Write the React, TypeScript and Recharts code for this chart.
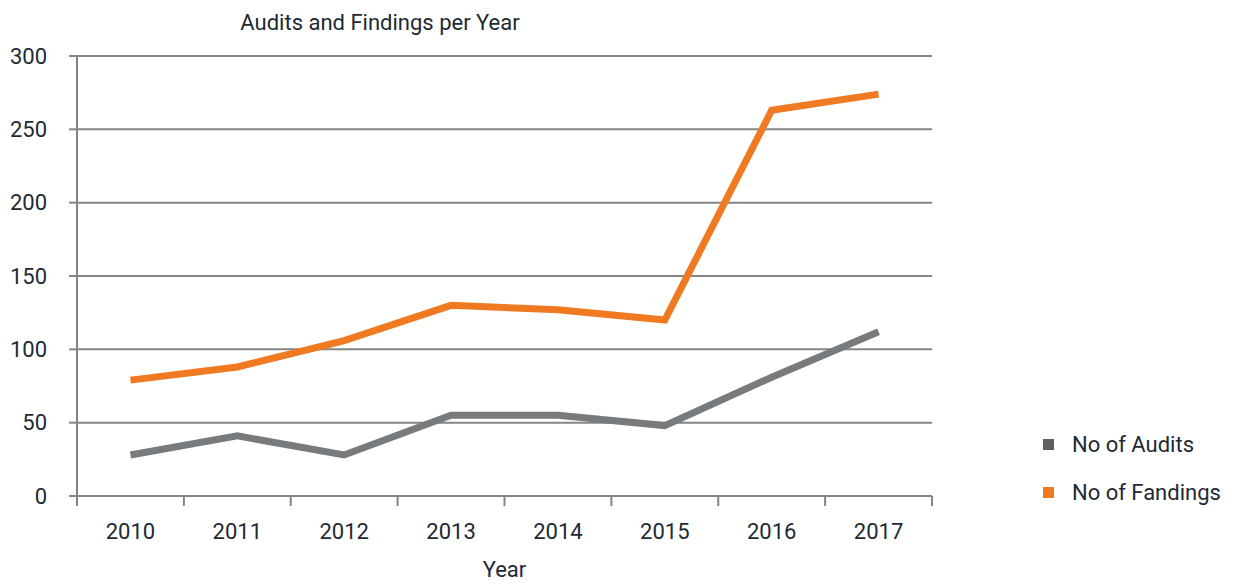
import React from 'react';
import { LineChart, Line, XAxis, YAxis, CartesianGrid } from 'recharts';

const years = ['2010', '2011', '2012', '2013', '2014', '2015', '2016', '2017'];
const audits = [28, 41, 28, 55, 55, 48, 81, 112];
const findings = [79, 88, 106, 130, 127, 120, 263, 274];
const yTicks = [0, 50, 100, 150, 200, 250, 300];

const series = [
  { key: 'audits', name: 'No of Audits', color: '#777b7e', legend: '#5f5f64' },
  { key: 'findings', name: 'No of Fandings', color: '#f07a22', legend: '#f07a22' },
];

const data = years.map((year, i) => ({ year, audits: audits[i], findings: findings[i] }));

const FONT = 'Roboto, "Open Sans", sans-serif';
const TEXT = '#1d2a33';
const AXIS = '#858585';

const W = 1233;
const H = 583;
const LEFT = 77;
const RIGHT = 932;
const BAND = (RIGHT - LEFT) / years.length;

const YearTick = (props: any) => {
  const { x, y, payload, index } = props;
  const lastIndex = years.length - 1;
  return (
    <g>
      <line x1={x - BAND / 2} x2={x - BAND / 2} y1={y} y2={y + 10} stroke={AXIS} strokeWidth={2} />
      {index === lastIndex && (
        <line x1={x + BAND / 2} x2={x + BAND / 2} y1={y} y2={y + 10} stroke={AXIS} strokeWidth={2} />
      )}
      <text x={x} y={y + 43} textAnchor="middle" fill={TEXT} fontSize={22} fontFamily={FONT}>
        {payload.value}
      </text>
    </g>
  );
};

export default function App() {
  return (
    <div style={{ position: 'absolute', left: 0, top: 0, width: W, height: H, background: '#fff' }}>
      <LineChart
        width={W}
        height={H}
        data={data}
        margin={{ top: 56, right: W - RIGHT, left: 0, bottom: 0 }}
      >
        <text x={380} y={30} textAnchor="middle" fill={TEXT} fontSize={22} fontFamily={FONT}>
          Audits and Findings per Year
        </text>
        <CartesianGrid vertical={false} stroke={AXIS} strokeWidth={2} />
        <XAxis
          dataKey="year"
          height={87}
          padding={{ left: BAND / 2, right: BAND / 2 }}
          stroke={AXIS}
          strokeWidth={2}
          tickLine={false}
          tickSize={0}
          tickMargin={0}
          tick={<YearTick />}
          interval={0}
          label={{ value: 'Year', position: 'insideBottom', offset: 6, fill: TEXT, fontSize: 22, fontFamily: FONT }}
        />
        <YAxis
          width={LEFT}
          domain={[0, 300]}
          ticks={yTicks}
          interval={0}
          stroke={AXIS}
          strokeWidth={2}
          tickSize={8}
          tickMargin={22}
          tick={{ fill: TEXT, fontSize: 22, fontFamily: FONT }}
        />
        {series.map(s => (
          <Line
            key={s.key}
            type="linear"
            dataKey={s.key}
            name={s.name}
            stroke={s.color}
            strokeWidth={7}
            dot={false}
            activeDot={false}
            isAnimationActive={false}
          />
        ))}
      </LineChart>
      <div style={{ position: 'absolute', left: 1043, top: 420, fontFamily: FONT, fontSize: 22, color: TEXT }}>
        {series.map(s => (
          <div key={s.key} style={{ display: 'flex', alignItems: 'center', height: 48 }}>
            <span style={{ display: 'inline-block', width: 11, height: 11, background: s.legend, marginRight: 18 }} />
            <span>{s.name}</span>
          </div>
        ))}
      </div>
    </div>
  );
}
